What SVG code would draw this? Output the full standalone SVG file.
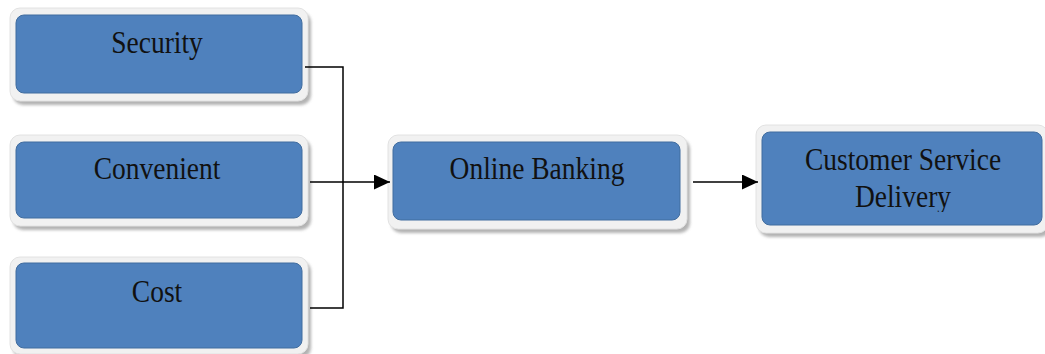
<svg xmlns="http://www.w3.org/2000/svg" width="1045" height="354" viewBox="0 0 1045 354">
  <style>
    .shadow { fill: #9a9a9a; opacity: 0.75; }
    .rim { fill: #f1f1f1; stroke: #e2e2e2; stroke-width: 1; }
    .body { fill: #4f81bd; stroke: #416d9f; stroke-width: 1; }
    .label { font-family: "Liberation Serif", "Times New Roman", serif; font-size: 27.5px; fill: #111111; text-anchor: middle; }
    .wire { fill: none; stroke: #000000; stroke-width: 1.5; }
  </style>
  <defs>
    <filter id="soft" x="-5%" y="-10%" width="110%" height="130%">
      <feGaussianBlur stdDeviation="1.5"/>
    </filter>
    <marker id="arrow" markerWidth="16" markerHeight="15" refX="16" refY="7.5" orient="auto" markerUnits="userSpaceOnUse">
      <path d="M0,0 L16,7.5 L0,15 Z" fill="#000000"/>
    </marker>
    <clipPath id="clipDelivery">
      <rect x="750" y="120" width="300" height="92"/>
    </clipPath>
  </defs>

  <g id="node-security">
    <rect class="shadow" x="13" y="12" width="298" height="93" rx="10" filter="url(#soft)"/>
    <rect class="rim" x="10" y="8" width="298" height="93" rx="10"/>
    <rect class="body" x="16" y="15" width="286" height="78" rx="8"/>
    <text class="label" transform="translate(157,53) scale(1,1.18)">Security</text>
  </g>

  <g id="node-convenient">
    <rect class="shadow" x="13" y="139" width="298" height="91" rx="10" filter="url(#soft)"/>
    <rect class="rim" x="10" y="135" width="298" height="91" rx="10"/>
    <rect class="body" x="16" y="142" width="286" height="76" rx="8"/>
    <text class="label" transform="translate(157,179) scale(1,1.18)">Convenient</text>
  </g>

  <g id="node-cost">
    <rect class="shadow" x="13" y="261" width="298" height="97" rx="10" filter="url(#soft)"/>
    <rect class="rim" x="10" y="257" width="298" height="97" rx="10"/>
    <rect class="body" x="16" y="263" width="286" height="85" rx="8"/>
    <text class="label" transform="translate(157,302) scale(1,1.18)">Cost</text>
  </g>

  <g id="node-online-banking">
    <rect class="shadow" x="391" y="139" width="299" height="94" rx="10" filter="url(#soft)"/>
    <rect class="rim" x="388" y="135" width="299" height="94" rx="10"/>
    <rect class="body" x="393" y="142" width="287" height="78" rx="8"/>
    <text class="label" transform="translate(537,179) scale(1,1.18)">Online Banking</text>
  </g>

  <g id="node-customer-service">
    <rect class="shadow" x="759" y="129" width="292" height="108" rx="10" filter="url(#soft)"/>
    <rect class="rim" x="756" y="125" width="292" height="108" rx="10"/>
    <rect class="body" x="762" y="132" width="280" height="93" rx="8"/>
    <text class="label" transform="translate(903,170) scale(1,1.18)">Customer Service</text>
    <g clip-path="url(#clipDelivery)">
      <text class="label" transform="translate(903,207) scale(1,1.18)">Delivery</text>
    </g>
  </g>

  <g id="connectors">
    <polyline class="wire" points="305,67 343,67 343,308 310,308"/>
    <line class="wire" x1="310" y1="182" x2="390" y2="182" marker-end="url(#arrow)"/>
    <line class="wire" x1="693" y1="182" x2="758" y2="182" marker-end="url(#arrow)"/>
  </g>
</svg>
